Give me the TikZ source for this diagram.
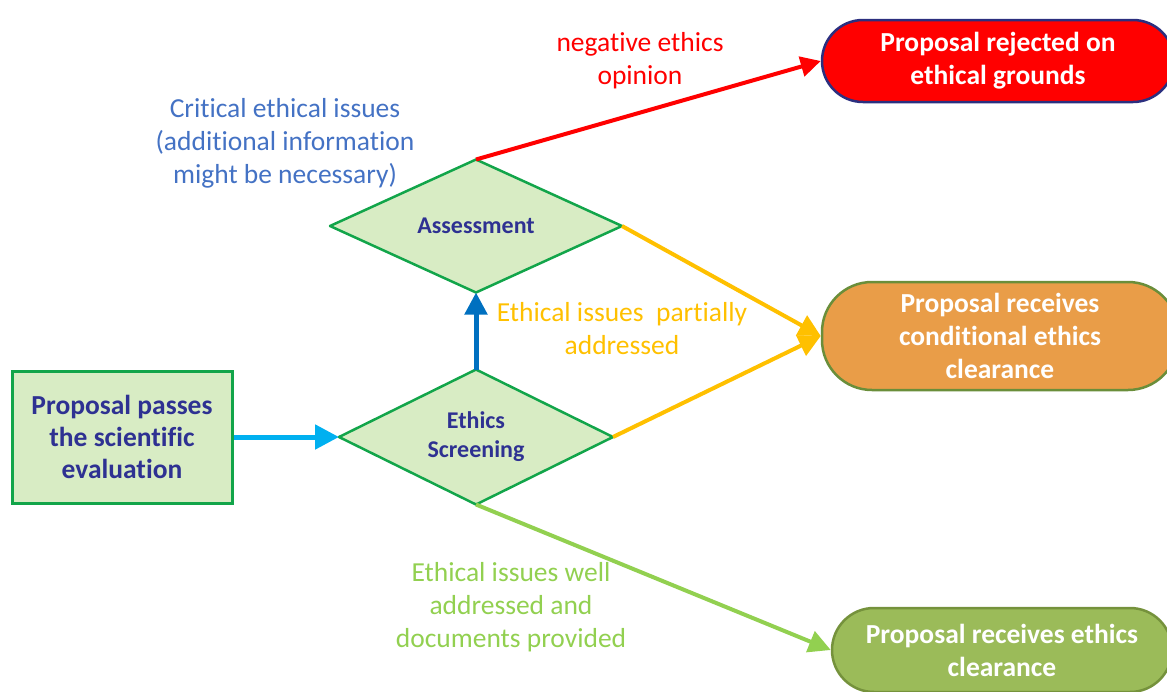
\documentclass[tikz,border=0pt]{standalone}
\usepackage{fontspec}
\setmainfont{Carlito}[Ligatures=NoCommon]
\usetikzlibrary{shapes.geometric,arrows.meta}
\definecolor{boxfill}{HTML}{D8ECC4}
\definecolor{boxline}{HTML}{12A54A}
\definecolor{navy}{HTML}{2E3192}
\definecolor{skyblue}{HTML}{00B0F0}
\definecolor{deepblue}{HTML}{0070C0}
\definecolor{rejred}{HTML}{FF0000}
\definecolor{rejline}{HTML}{2B2F7F}
\definecolor{condfill}{HTML}{E99D48}
\definecolor{condline}{HTML}{6A8E3A}
\definecolor{okfill}{HTML}{9BBB59}
\definecolor{okline}{HTML}{75923C}
\definecolor{critblue}{HTML}{4472C4}
\definecolor{amber}{HTML}{FFC000}
\definecolor{leaf}{HTML}{92D050}
\tikzset{
  startbox/.style={draw=boxline, fill=boxfill, line width=3pt, inner sep=0pt,
    minimum width=220pt, minimum height=132pt, align=center, text=navy,
    font=\fontsize{27.5}{32}\selectfont\bfseries},
  decision/.style={diamond, shape aspect=2, draw=boxline, fill=boxfill, line width=2.5pt,
    inner sep=0pt, outer sep=0pt, line join=round, align=center, text=navy,
    font=\fontsize{24}{29}\selectfont\bfseries},
  outcome/.style={rectangle, line width=2.5pt, inner sep=0pt, align=center, text=white,
    font=\fontsize{27.5}{33}\selectfont\bfseries},
  flowlabel/.style={align=center, font=\fontsize{27.5}{33}\selectfont},
  flow/.style={line width=4pt, -{Triangle[length=22pt,width=22pt]}},
}
\begin{document}
\begin{tikzpicture}[x=1pt,y=-1pt]
\useasboundingbox (0,0) rectangle (1167,691);
\clip (0,0) rectangle (1167,691);

% start box and decision diamonds
\node[startbox] (start) at (122,437) {Proposal passes\\the scientific\\evaluation};
\node[decision, minimum width=274pt, minimum height=135pt] (screen) at (476,437) {\raisebox{-2pt}{\begin{tabular}{@{}c@{}}Ethics\\Screening\end{tabular}}};
\node[decision, minimum width=292pt, minimum height=133pt] (assess) at (476,226) {Assessment};

% outcomes
\node[outcome, draw=rejline, fill=rejred, minimum width=352pt, minimum height=82pt,
  rounded corners=41pt] (reject) at (998,61) {\raisebox{-3pt}{\begin{tabular}{@{}c@{}}Proposal rejected on\\ethical grounds\end{tabular}}};
\node[outcome, draw=condline, fill=condfill, minimum width=356pt, minimum height=108pt,
  rounded corners=50pt] (cond) at (1000,336) {Proposal receives\\conditional ethics\\clearance};
\node[outcome, draw=okline, fill=okfill, minimum width=340pt, minimum height=84pt,
  rounded corners=42pt] (clear) at (1002,650) {Proposal receives ethics\\clearance};

% connectors
\draw[flow, skyblue, line width=5pt, -{Triangle[length=24pt,width=24pt]}] (start.east) -- (screen.west);
\draw[flow, deepblue, line width=5pt] (screen.north) -- (assess.south);
\draw[flow, rejred, -{Triangle[length=20pt,width=20pt]}] (assess.north) -- (reject.west);
\draw[flow, amber] (assess.east) -- (cond.west);
\draw[flow, amber] (screen.east) -- (cond.west);
\draw[flow, leaf] (screen.south) -- (clear.west);

% labels
\node[flowlabel, text=rejred] (lneg) at (640,61) {negative ethics\\opinion};
\node[flowlabel, text=critblue] (lcrit) at (285,143) {Critical ethical issues\\(additional information\\might be necessary)};
\node[flowlabel, text=amber] (lpart) at (622,329) {Ethical issues\ \ partially\\addressed};
\node[flowlabel, text=leaf] (lwell) at (511,607) {Ethical issues well\\addressed and\\documents provided};
\end{tikzpicture}
\end{document}
